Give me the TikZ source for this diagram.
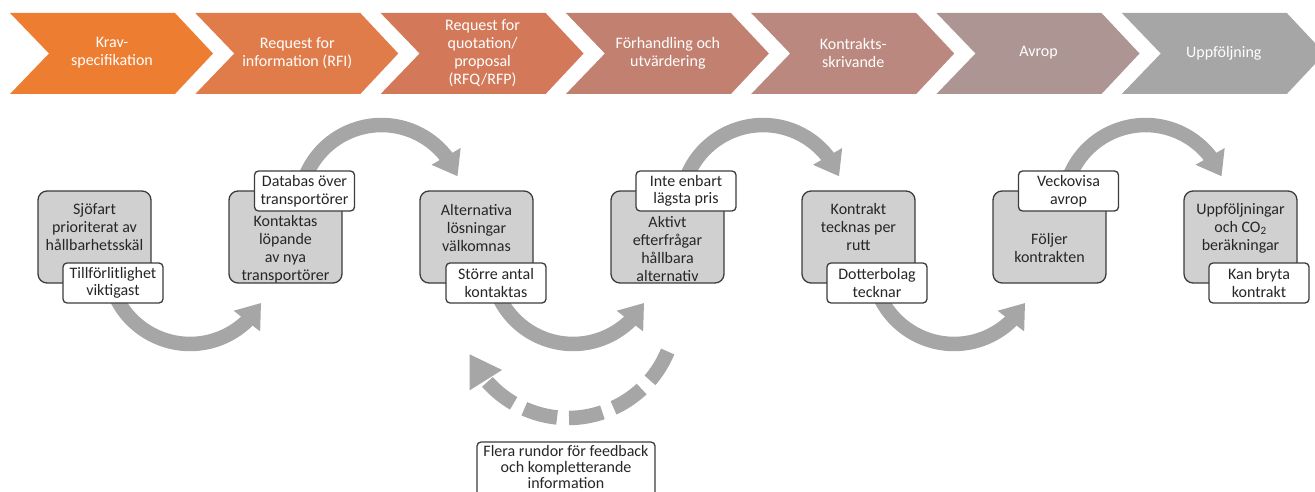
\documentclass[tikz,border=0pt]{standalone}
\usepackage{fontspec}
\setmainfont{Carlito}
\usetikzlibrary{arrows.meta,bending,calc}
\definecolor{cA}{RGB}{237,125,49}
\definecolor{cB}{RGB}{224,124,74}
\definecolor{cC}{RGB}{211,121,90}
\definecolor{cD}{RGB}{194,128,112}
\definecolor{cE}{RGB}{186,136,126}
\definecolor{cF}{RGB}{173,149,148}
\definecolor{cG}{RGB}{166,166,166}
\definecolor{arrowgray}{RGB}{166,166,166}
\definecolor{boxgray}{RGB}{208,208,208}
\definecolor{edgegray}{RGB}{60,60,60}
\definecolor{txtgray}{RGB}{38,38,38}
\pgfdeclarelayer{bg}
\pgfsetlayers{bg,main}
\begin{document}
\begin{tikzpicture}[x=1pt,y=-1pt,
  headtext/.style={text=white,align=center,inner sep=0pt,font=\fontsize{16}{18}\selectfont},
  graybox/.style={draw=edgegray,line width=1.3pt,fill=boxgray,rounded corners=9pt,minimum width=113pt,minimum height=92pt,inner sep=0pt},
  boxtext/.style={text=txtgray,align=center,inner sep=0pt,font=\fontsize{16}{18}\selectfont},
  notebox/.style={draw=edgegray,line width=1.3pt,fill=white,rounded corners=4pt,minimum width=100pt,minimum height=40pt,inner sep=1pt,text=txtgray,align=center,font=\fontsize{16}{17.5}\selectfont},
  bigarrow/.style={draw=arrowgray,line width=14.5pt,-{Triangle[width=32pt,length=23pt]}},
  dasharrow/.style={draw=arrowgray,line width=14.5pt,dash pattern=on 34pt off 12pt,-{Triangle[width=36pt,length=31pt]}}
]
\useasboundingbox (0,0) rectangle (1315,492);
\clip (0,0) rectangle (1315,492);

% header chevrons
\foreach \k/\c/\t in {0/cA/{Krav-\\specifikation},
                      1/cB/{Request for\\information (RFI)},
                      2/cC/{Request for\\quotation/\\proposal\\(RFQ/RFP)},
                      3/cD/{Förhandling och\\utvärdering},
                      4/cE/{Kontrakts-\\skrivande},
                      5/cF/{Avrop},
                      6/cG/{Uppföljning}}{
  \pgfmathsetmacro{\s}{10+185.3*\k}
  \fill[\c] (\s,13) -- (\s+165,13) -- (\s+203,53.5) -- (\s+165,94) -- (\s,94) -- (\s+39,53.5) -- cycle;
  \node[headtext] (h\k) at (\s+102,53) {\t};
}

% process boxes
\node[graybox] (b1) at (94.5,237) {};
\node[graybox] (b2) at (285.5,237) {};
\node[graybox] (b3) at (476.5,237) {};
\node[graybox] (b4) at (667.5,237) {};
\node[graybox] (b5) at (858.5,237) {};
\node[graybox] (b6) at (1049.5,237) {};
\node[graybox] (b7) at (1240.5,237) {};

\node[boxtext] (t1) at ($(b1.center)+(0,-10)$) {Sjöfart\\prioriterat av\\hållbarhetsskäl};
\node[boxtext] (t2) at ($(b2.center)+(0,12)$) {Kontaktas\\löpande\\av nya\\transportörer};
\node[boxtext] (t3) at ($(b3.center)+(0,-9)$) {Alternativa\\lösningar\\välkomnas};
\node[boxtext] (t4) at ($(b4.center)+(0,12)$) {Aktivt\\efterfrågar\\hållbara\\alternativ};
\node[boxtext] (t5) at ($(b5.center)+(0,-10)$) {Kontrakt\\tecknas per\\rutt};
\node[boxtext] (t6) at ($(b6.center)+(0,11)$) {Följer\\kontrakten};
\node[boxtext] (t7) at ($(b7.center)+(0,-9)$) {Uppföljningar\\och CO\textsubscript{2}\\beräkningar};

% notes
\node[notebox] (n1) at ($(b1.center)+(18.5,46)$) {Tillförlitlighet\\viktigast};
\node[notebox] (n2) at ($(b2.center)+(19,-46)$) {Databas över\\transportörer};
\node[notebox] (n3) at ($(b3.center)+(19.5,46)$) {Större antal\\kontaktas};
\node[notebox] (n4) at ($(b4.center)+(18.5,-46)$) {Inte enbart\\lägsta pris};
\node[notebox] (n5) at ($(b5.center)+(18.5,46)$) {Dotterbolag\\tecknar};
\node[notebox] (n6) at ($(b6.center)+(19,-46)$) {Veckovisa\\avrop};
\node[notebox] (n7) at ($(b7.center)+(18.5,46)$) {Kan bryta\\kontrakt};

\node[notebox,minimum width=178pt,minimum height=56pt,font=\fontsize{16}{16}\selectfont] (fb) at (566,470) {};
\node[boxtext,font=\fontsize{16}{16}\selectfont] (fbt) at (566,467.5) {Flera rundor för feedback\\och kompletterande\\information};

\coordinate (dstart) at (667.7,351.5);

% connectors behind boxes
\begin{pgfonlayer}{bg}
  \draw[bigarrow] ($(n1.center)+(0,7)$) arc[start angle=160,end angle=30,radius=82];
  \draw[bigarrow] ($(n3.center)+(0,7)$) arc[start angle=160,end angle=30,radius=82];
  \draw[bigarrow] ($(n5.center)+(0,7)$) arc[start angle=160,end angle=30,radius=82];
  \draw[bigarrow] ($(n2.center)+(0,-12)$) arc[start angle=200,end angle=338,radius=82];
  \draw[bigarrow] ($(n4.center)+(0,-12)$) arc[start angle=200,end angle=338,radius=82];
  \draw[bigarrow] ($(n6.center)+(0,-12)$) arc[start angle=200,end angle=338,radius=82];
  \draw[dasharrow] (dstart) arc[start angle=22.6,end angle=156,radius=108];
\end{pgfonlayer}
\end{tikzpicture}
\end{document}
